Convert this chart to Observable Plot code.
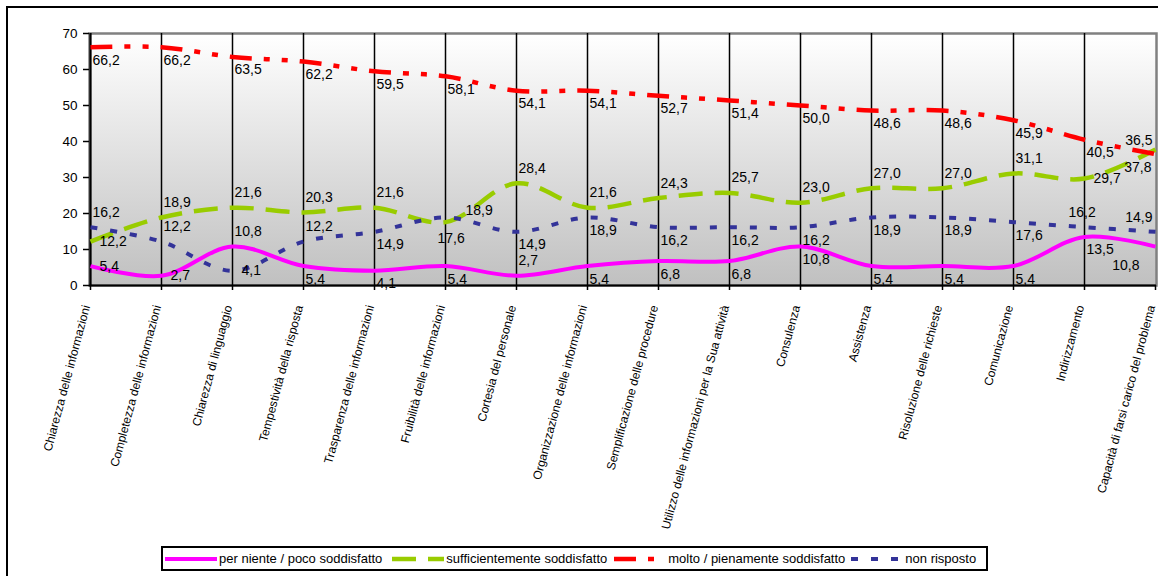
<!DOCTYPE html>
<html>
<head>
<meta charset="utf-8">
<script src="https://cdn.jsdelivr.net/npm/d3@7"></script>
<script src="https://cdn.jsdelivr.net/npm/@observablehq/plot@0.6"></script>
<style>
  html, body { margin: 0; padding: 0; overflow: hidden; background: #fff; width: 1158px; height: 576px; }
  #wrap { position: relative; width: 1158px; height: 576px; font-family: "Liberation Sans", Arial, sans-serif; color: #000; }
  #chart svg { display: block; }
  #frame { position: absolute; left: 6px; top: 6px; width: 1300px; height: 700px; border: 2px solid #000; pointer-events: none; }
  #legend { position: absolute; left: 161px; top: 546px; width: 823px; height: 21px; border: 2px solid #000; background: #fff;
            display: flex; align-items: center; font-size: 13px; white-space: nowrap; }
  #legend .item { display: flex; align-items: center; }
  #legend svg { display: block; }
</style>
</head>
<body>
<div id="wrap">
  <div id="chart"></div>
  <div id="legend"></div>
  <div id="frame"></div>
</div>
<script>
// ---- Data ----
const categories = [
  "Chiarezza delle informazioni",
  "Completezza delle informazioni",
  "Chiarezza di linguaggio",
  "Tempestività della risposta",
  "Trasparenza delle informazioni",
  "Fruibilità delle informazioni",
  "Cortesia del personale",
  "Organizzazione delle informazioni",
  "Semplificazione delle procedure",
  "Utilizzo delle informazioni per la Sua attività",
  "Consulenza",
  "Assistenza",
  "Risoluzione delle richieste",
  "Comunicazione",
  "Indirizzamento",
  "Capacità di farsi carico del problema"
];
const perNiente   = [5.4, 2.7, 10.8, 5.4, 4.1, 5.4, 2.7, 5.4, 6.8, 6.8, 10.8, 5.4, 5.4, 5.4, 13.5, 10.8];
const sufficiente = [12.2, 18.9, 21.6, 20.3, 21.6, 17.6, 28.4, 21.6, 24.3, 25.7, 23.0, 27.0, 27.0, 31.1, 29.7, 37.8];
const molto       = [66.2, 66.2, 63.5, 62.2, 59.5, 58.1, 54.1, 54.1, 52.7, 51.4, 50.0, 48.6, 48.6, 45.9, 40.5, 36.5];
const nonRisposto = [16.2, 12.2, 4.1, 12.2, 14.9, 18.9, 14.9, 18.9, 16.2, 16.2, 16.2, 18.9, 18.9, 17.6, 16.2, 14.9];
const seriesNames = [
  "per niente / poco soddisfatto",
  "sufficientemente soddisfatto",
  "molto / pienamente soddisfatto",
  "non risposto"
];
const yTicks = [0, 10, 20, 30, 40, 50, 60, 70];

// ---- Styles (kept separate from data) ----
const seriesValues = [perNiente, sufficiente, molto, nonRisposto];
const styles = [
  {color: "#ff00ff", width: 4,   dash: null},
  {color: "#99cc00", width: 4.5, dash: "24,12"},
  {color: "#ff0000", width: 4.5, dash: "22,12,6,12,6,12"},
  {color: "#333399", width: 4,   dash: "7,13"}
];
// data-label placement as in the original (a = above, b = below, r = right, ar = above-right, al/bl = left of point)
const labelSides = [
  ["r","r","a","b","b","b","a","b","b","b","b","b","b","b","b","bl2"],
  ["r","a","a","a","a","bc","a","a","a","a","a","a","a","a","r","bl"],
  ["b","b","b","b","b","b","b","b","b","b","b","b","b","b","b","al"],
  ["a","a","r","a","b","ar","b","b","b","b","b","b","b","b","al2","al"]
];
const sideStyle = {
  a:   {dx: 2,   dy: -15, anchor: "start"},
  b:   {dx: 2,   dy: 13,  anchor: "start"},
  bc:  {dx: -8,  dy: 16,  anchor: "start"},
  r:   {dx: 9,   dy: 0,   anchor: "start"},
  ar:  {dx: 20,  dy: -7,  anchor: "start"},
  al:  {dx: -3,  dy: -14, anchor: "end"},
  al2: {dx: -16, dy: -15, anchor: "start"},
  bl:  {dx: -4,  dy: 18,  anchor: "end"},
  bl2: {dx: -16, dy: 19,  anchor: "end"}
};

const rows = seriesNames.flatMap((s, i) =>
  categories.map((c, j) => ({series: s, si: i, cat: c, idx: j, value: seriesValues[i][j], side: labelSides[i][j]})));
const fmt = v => d3.format(".1f")(v).replace(".", ",");

const lineMarks = seriesNames.map((s, i) => Plot.line(rows.filter(d => d.si === i), {
  x: "cat", y: "value",
  stroke: styles[i].color, strokeWidth: styles[i].width,
  strokeDasharray: styles[i].dash || undefined,
  strokeLinecap: "butt", strokeLinejoin: "round",
  curve: "catmull-rom"
}));

const labelMarks = Object.entries(sideStyle).map(([side, st]) =>
  Plot.text(rows.filter(d => d.side === side), {
    x: "cat", y: "value", text: d => fmt(d.value),
    dx: st.dx, dy: st.dy, textAnchor: st.anchor, fontSize: 14, fill: "#000"
  }));

const chart = Plot.plot({
  width: 1158,
  height: 540,
  marginTop: 33,
  marginLeft: 89,
  marginRight: 2,
  marginBottom: 255,
  style: {fontFamily: "'Liberation Sans', Arial, sans-serif", color: "#000", background: "transparent", overflow: "visible"},
  x: {type: "point", domain: categories, padding: 0},
  y: {domain: [0, 70]},
  marks: [
    Plot.frame({fill: "url(#bgGrad)", stroke: "#808080", strokeWidth: 2.5}),
    Plot.ruleX(categories.slice(0, -1), {stroke: "#000", strokeWidth: 1.5}),
    Plot.ruleX(categories.slice(0, 1), {stroke: "#000", strokeWidth: 2}),
    Plot.ruleY([0], {stroke: "#000", strokeWidth: 2}),
    Plot.axisY({ticks: yTicks, tickSize: 6, tickPadding: 6, fontSize: 13.5, tickFormat: d => String(d), strokeWidth: 1.5, label: null}),
    Plot.axisX({tickSize: 5, tickFormat: () => "", strokeWidth: 1.5, label: null}),
    Plot.axisX({tickSize: 0, tickPadding: 20, tickRotate: -75, fontSize: 12, dx: -4, label: null}),
    ...lineMarks,
    ...labelMarks
  ]
});

d3.select(chart).insert("defs", ":first-child").html(
  '<linearGradient id="bgGrad" x1="0" y1="0" x2="0" y2="1">' +
  '<stop offset="0" stop-color="#ffffff"/><stop offset="1" stop-color="#c0c0c0"/></linearGradient>');

document.getElementById("chart").appendChild(chart);

// ---- Legend ----
const legend = d3.select("#legend");
const gaps = [2, 10, 7, 6];
seriesNames.forEach((s, i) => {
  const item = legend.append("div").attr("class", "item").style("margin-left", (i === 0 ? 2 : gaps[i]) + "px");
  const sv = item.append("svg").attr("width", 52).attr("height", 10);
  sv.append("line").attr("x1", 0).attr("x2", 52).attr("y1", 5).attr("y2", 5)
    .attr("stroke", styles[i].color).attr("stroke-width", styles[i].width)
    .attr("stroke-dasharray", styles[i].dash);
  item.append("span").style("margin-left", "2px").text(s);
});
</script>
</body>
</html>
